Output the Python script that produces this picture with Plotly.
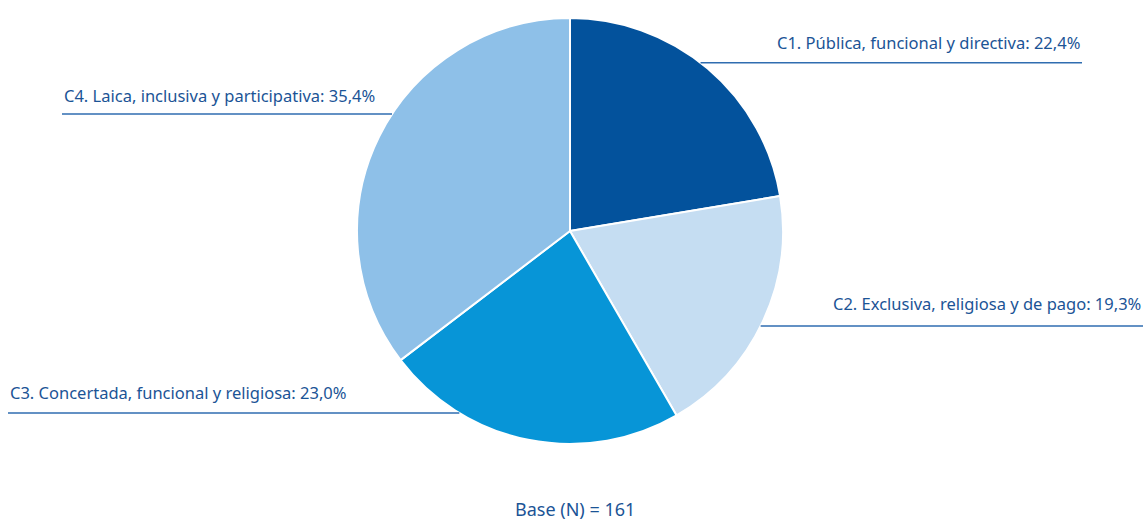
import math
import plotly.graph_objects as go

labels = ["C1. Pública, funcional y directiva", "C2. Exclusiva, religiosa y de pago",
          "C3. Concertada, funcional y religiosa", "C4. Laica, inclusiva y participativa"]
values = [22.4, 19.3, 23.0, 35.4]
value_text = ["22,4%", "19,3%", "23,0%", "35,4%"]
colors = ["#03529C", "#C5DDF2", "#0795D7", "#8EC0E8"]
base_text = "Base (N) = 161"

W, H = 1146, 520
ML, MR, MT, MB = 0, 6, 18, 76
PW, PH = W - ML - MR, H - MT - MB
CX, CY = ML + PW / 2, MT + PH / 2
R = min(PW, PH) / 2

def px(x):
    return (x - ML) / PW

def py(y):
    return 1 - (y - MT) / PH

TXT = "#1B5496"
LINE = "#2F6DB0"
FONT = "Noto Sans"

fig = go.Figure(go.Pie(
    labels=labels, values=values, sort=False, direction="clockwise", rotation=0,
    marker=dict(colors=colors, line=dict(color="white", width=2)),
    textinfo="none", hoverinfo="label+percent", showlegend=False,
))

# label layout: (line y, outer x end, side, text y)
layout_spec = [
    (62.7, 1082, "right", 43),
    (326, 1143, "right", 303),
    (413, 8, "left", 392),
    (114, 62, "left", 95),
]
shapes, annotations = [], []
for lab, vt, (ly, outer, side, ty) in zip(labels, value_text, layout_spec):
    dy = ly - CY
    dx = math.sqrt(max(R * R - dy * dy, 0))
    edge = CX + dx if side == "right" else CX - dx
    x0, x1 = (edge, outer) if side == "right" else (outer, edge)
    shapes.append(dict(type="line", xref="paper", yref="paper",
                       x0=px(x0), x1=px(x1), y0=py(ly), y1=py(ly),
                       line=dict(color=LINE, width=1.6)))
    annotations.append(dict(
        text=f"{lab}: {vt}", xref="paper", yref="paper",
        x=px(outer), y=py(ty), xanchor="right" if side == "right" else "left",
        yanchor="middle", showarrow=False,
        font=dict(size=16.5, color=TXT, family=FONT)))

annotations.append(dict(text=base_text, xref="paper", yref="paper",
                        x=px(575), y=py(509), xanchor="center", yanchor="middle",
                        showarrow=False, font=dict(size=18, color=TXT, family=FONT)))

fig.update_layout(
    width=W, height=H, margin=dict(l=ML, r=MR, t=MT, b=MB),
    paper_bgcolor="white", plot_bgcolor="white",
    shapes=shapes, annotations=annotations,
)
fig.write_html("out.html", config={"displayModeBar": False},
               post_script="document.body.style.margin='0';")
